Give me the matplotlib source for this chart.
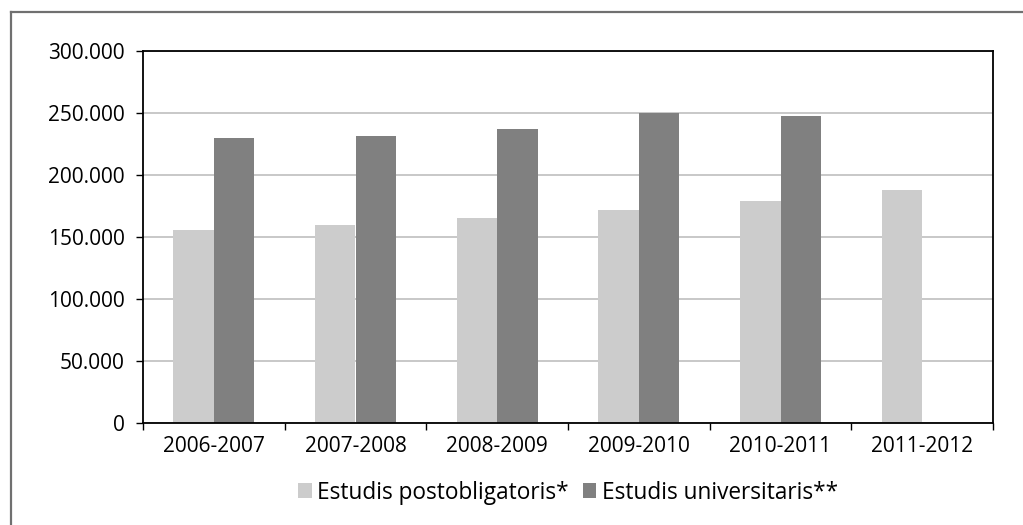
import matplotlib.pyplot as plt
import numpy as np
from matplotlib.lines import Line2D

# dades
Cursos = ['2006-2007', '2007-2008', '2008-2009', '2009-2010', '2010-2011', '2011-2012']
Postobligatoris = [155600, 159700, 165100, 171800, 179000, 187900]
Universitaris = [229600, 231500, 237100, 250000, 247600, 0]
SerieNoms = ['Estudis postobligatoris*', 'Estudis universitaris**']

plt.rcParams['font.family'] = ['Open Sans', 'DejaVu Sans']
plt.rcParams['font.size'] = 15

fig = plt.figure(figsize=(10.23, 5.25), dpi=100)
ax = fig.add_axes([143/1023, 1-423/525, 850/1023, 372/525])

x = np.arange(len(Cursos))
w = 0.286
ax.bar(x - w/2, Postobligatoris, w, color='#cccccc', label=SerieNoms[0], zorder=2)
ax.bar(x + w/2, Universitaris, w, color='#808080', label=SerieNoms[1], zorder=2)

ax.set_xlim(-0.5, len(Cursos) - 0.5)
ax.set_ylim(0, 300000)
yt = np.arange(0, 300001, 50000)
ax.set_yticks(yt)
ax.set_yticklabels(['0' if v == 0 else '{:,}'.format(v).replace(',', '.') for v in yt])
ax.yaxis.grid(True, color='#c4c4c4', linewidth=1.3, zorder=0)
ax.set_axisbelow(True)

# marques a les fronteres dels grups
ax.set_xticks(np.arange(-0.5, len(Cursos), 1))
ax.set_xticklabels([])
ax.set_xticks(x, minor=True)
ax.set_xticklabels(Cursos, minor=True)
ax.tick_params(axis='x', which='major', length=5, width=1, direction='out')
ax.tick_params(axis='x', which='minor', length=0, pad=9)
ax.tick_params(axis='y', length=5, width=1, pad=8)
for s in ax.spines.values():
    s.set_linewidth(1.3)
    s.set_color('black')

ax.legend(loc='center', bbox_to_anchor=(0.5, -0.187), ncol=2, frameon=False,
          handlelength=0.6, handleheight=0.6, handletextpad=0.25, columnspacing=0.6,
          fontsize=16.3)

# vora exterior (només esquerra i dalt)
fig.add_artist(Line2D([11/1023, 11/1023], [0, 1-12/525], color='#707070', linewidth=1.6))
fig.add_artist(Line2D([11/1023, 1], [1-12/525, 1-12/525], color='#707070', linewidth=1.6))

fig.savefig('out.png', dpi=100)
